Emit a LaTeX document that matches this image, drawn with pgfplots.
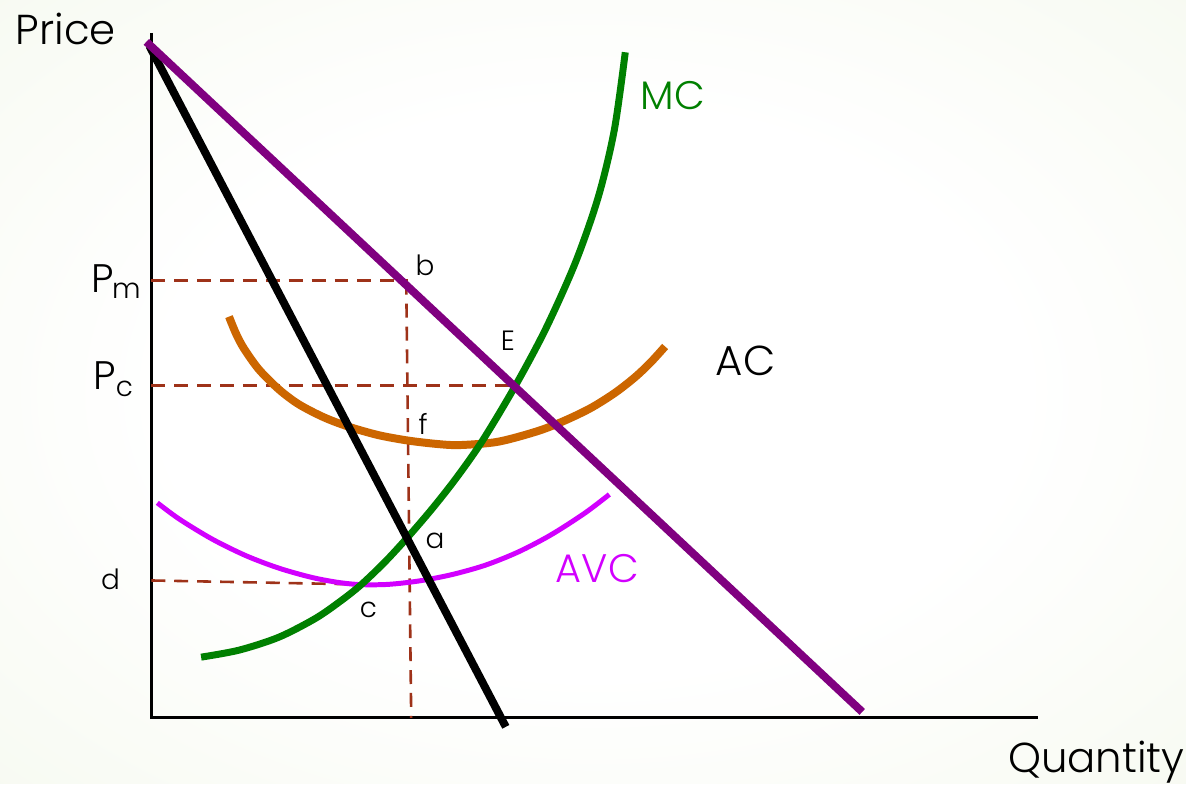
\documentclass[border=0pt]{standalone}
\usepackage{fontspec}
\setmainfont{Poppins Light}
\usepackage{pgfplots}
\pgfplotsset{compat=1.18}

\definecolor{demand}{RGB}{128,0,128}
\definecolor{mc}{RGB}{0,128,0}
\definecolor{ac}{RGB}{204,102,0}
\definecolor{avc}{RGB}{210,0,255}
\definecolor{guide}{RGB}{158,50,25}
\definecolor{bg}{RGB}{236,243,223}
\pgfdeclareradialshading{bgshade}{\pgfpoint{0bp}{0bp}}{%
  color(0bp)=(white); color(18bp)=(white); color(42bp)=(bg!55!white); color(71bp)=(bg)}

\begin{document}
\begin{tikzpicture}
\begin{axis}[
    at={(0,0)}, anchor=south west,
    width=595.5pt, height=393.5pt, scale only axis,
    xmin=0, xmax=1191, ymin=0, ymax=787, y dir=reverse,
    hide axis, clip=false,
]
% background
\shade[shading=bgshade] (axis cs:0,0) rectangle (axis cs:1191,787);

% axes
\addplot[black, line width=1.5pt] coordinates {(152,33) (152,721) (1043,721)};

% dashed guides
\addplot[guide, line width=1.3pt, dash pattern=on 7pt off 4.5pt] coordinates {(152,282) (410,282)};
\addplot[guide, line width=1.3pt, dash pattern=on 7pt off 4.5pt] coordinates {(408,282) (413,721)};
\addplot[guide, line width=1.3pt, dash pattern=on 7pt off 4.5pt] coordinates {(152,387) (515,387)};
\addplot[guide, line width=1.3pt, dash pattern=on 7pt off 4.5pt] coordinates {(152,583) (365,587)};

% AVC
\addplot[avc, line width=2.5pt, smooth] coordinates {
    (158,505) (180,521.3) (213,541.4) (247,558.1) (280,570.6) (313,579.9)
    (340,585) (363,587.2) (390,586.9) (420,583.6) (453,577.3) (487,567.8)
    (520,554.6) (553,537.4) (587,515.6) (612,496.6)
};
% AC
\addplot[ac, line width=4pt, smooth] coordinates {
    (230,318) (237,335) (245,350) (260,371) (280,391) (300,406) (325,419)
    (350,428.5) (380,437) (410,442.5) (440,446) (462,447) (500,443.7)
    (540,433) (567,422.5) (593,410) (617,395) (637,379.5) (653,364.5) (668,348)
};
% MC
\addplot[mc, line width=3.5pt, smooth] coordinates {
    (202,660) (240,653) (280,640) (317,621) (343,603) (363,587) (387,564)
    (410,539) (434,511) (458,480.5) (484,443.5) (517,388.5) (548,330.5)
    (578,263.5) (601,197.5) (617,130.5) (628,52.5)
};
% MR
\addplot[black, line width=4pt] coordinates {(150,46) (508,730)};
% demand
\addplot[demand, line width=4pt] coordinates {(147,42) (866,715)};

% labels
\node[font=\fontsize{21}{21}\selectfont] at (axis cs:66,29) {Price};
\node[font=\fontsize{21}{21}\selectfont] at (axis cs:1101,765) {Quantity};
\node[font=\fontsize{20}{20}\selectfont] at (axis cs:103,280) {P};
\node[font=\fontsize{14}{14}\selectfont] at (axis cs:127,292) {m};
\node[font=\fontsize{20}{20}\selectfont] at (axis cs:105,377) {P};
\node[font=\fontsize{14}{14}\selectfont] at (axis cs:125,391) {c};
\node[font=\fontsize{14}{14}\selectfont] at (axis cs:111,582) {d};
\node[font=\fontsize{14}{14}\selectfont] at (axis cs:427,266) {b};
\node[font=\fontsize{14}{14}\selectfont] at (axis cs:510,342) {E};
\node[font=\fontsize{14}{14}\selectfont] at (axis cs:425,426) {f};
\node[font=\fontsize{14}{14}\selectfont] at (axis cs:437,543) {a};
\node[font=\fontsize{14}{14}\selectfont] at (axis cs:370,613) {c};
\node[mc, font=\fontsize{20}{20}\selectfont] at (axis cs:676,96) {MC};
\node[font=\fontsize{21}{21}\selectfont] at (axis cs:749,362) {AC};
\node[avc, font=\fontsize{20}{20}\selectfont] at (axis cs:600,571) {AVC};
\end{axis}
\end{tikzpicture}
\end{document}
